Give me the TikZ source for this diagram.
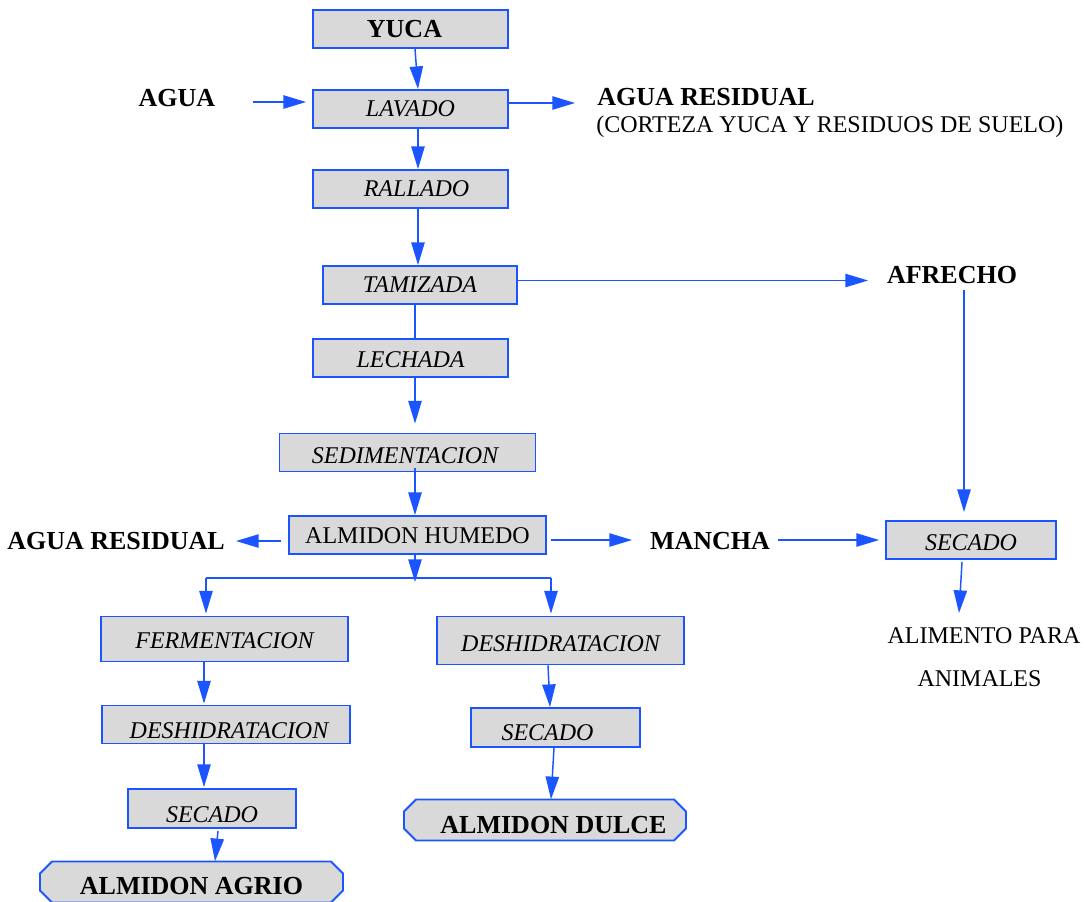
\documentclass[tikz,border=0pt]{standalone}
\usepackage{fontspec}
\setmainfont{Liberation Serif}
\usetikzlibrary{arrows.meta}
\definecolor{lb}{HTML}{1A55FF}
\definecolor{boxgray}{HTML}{D9D9D9}
\newcommand\octo[3]{%
 \path[octst] ([shift={(-#2+12,-#3)}]#1) -- ([shift={(#2-12,-#3)}]#1) -- ([shift={(#2,-#3+12)}]#1) -- ([shift={(#2,#3-12)}]#1) -- ([shift={(#2-12,#3)}]#1) -- ([shift={(-#2+12,#3)}]#1) -- ([shift={(-#2,#3-12)}]#1) -- ([shift={(-#2,-#3+12)}]#1) -- cycle;}
\begin{document}
\begin{tikzpicture}[x=0.75pt,y=-0.75pt,
  itf/.style={font=\fontsize{18}{20}\selectfont\itshape},
  rgf/.style={font=\fontsize{18}{20}\selectfont},
  bdf/.style={font=\fontsize{19.5}{22}\selectfont\bfseries},
  pbox/.style 2 args={draw=lb, fill=boxgray, line width=1.4pt, minimum width=#1*0.75pt, minimum height=#2*0.75pt, inner sep=0pt},
  th/.style={text height=#1, text depth=0pt},
  octst/.style={draw=lb, fill=boxgray, line width=1.4pt},
  txt/.style={inner sep=0pt},
  arr/.style={draw=lb, line width=1.1pt, -{Triangle[length=17pt,width=10pt]}},
  ln/.style={draw=lb, line width=1.1pt}]
\useasboundingbox (0,0) rectangle (1087,901);
\fill[white] (0,0) rectangle (1087,901);
\clip (0,0) rectangle (1087,901);

% boxes
\node[pbox={195}{38}, bdf] (yuca) at (410.5,29) {YUCA\hspace*{9pt}};
\node[pbox={195}{38}, itf] (lavado) at (410.5,109) {LAVADO};
\node[pbox={195}{38}, itf] (rallado) at (410.5,189) {\hspace*{9pt}RALLADO};
\node[pbox={194}{38}, itf] (tamizada) at (420,285) {TAMIZADA};
\node[pbox={195}{38}, itf, th=14.9pt] (lechada) at (410.5,358) {LECHADA};
\node[pbox={256}{38}, itf, th=16.4pt] (sedim) at (407.5,452.5) {SEDIMENTACION\hspace*{3.75pt}};
\node[pbox={257}{38}, rgf, th=13.4pt] (humedo) at (417.5,535) {ALMIDON HUMEDO};
\node[pbox={247}{45}, itf, th=14.9pt] (ferm) at (224.5,639) {FERMENTACION};
\node[pbox={248}{38}, itf, th=21.65pt] (deshL) at (226,724.5) {\hspace*{4.5pt}DESHIDRATACION};
\node[pbox={168}{39}, itf, th=21.65pt] (secL) at (212,808.5) {SECADO};
\node[pbox={247}{48}, itf, th=16.4pt] (deshR) at (560.5,640.5) {DESHIDRATACION};
\node[pbox={169}{39}, itf, th=20.15pt] (secM) at (555.5,727.5) {SECADO\hspace*{12pt}};
\node[pbox={170}{38}, itf, th=16.4pt] (secR) at (971,540) {SECADO};

\coordinate (agc) at (191.5,882);
\octo{agc}{151.5}{20.5}
\node[txt, minimum width=303*0.75pt, minimum height=41*0.75pt, bdf, th=19.2pt] (agrio) at (agc) {ALMIDON AGRIO};
\coordinate (duc) at (545,820);
\octo{duc}{141}{20.5}
\node[txt, minimum width=282*0.75pt, minimum height=41*0.75pt, bdf, th=19.95pt] (dulce) at (duc) {\hspace*{12.75pt}ALMIDON DULCE};

% free texts
\node[txt, bdf] (agua) at (177,98) {AGUA};
\node[txt, bdf, anchor=west] (ares1) at (597,97) {AGUA RESIDUAL};
\node[txt, rgf, anchor=west] (ares1b) at (596,127) {(CORTEZA YUCA Y RESIDUOS DE SUELO)};
\node[txt, bdf] (afrecho) at (952,275) {AFRECHO};
\node[txt, bdf] (ares2) at (116,541) {AGUA RESIDUAL};
\node[txt, bdf] (mancha) at (710,541) {MANCHA};
\node[txt, rgf] (alim1) at (984,636) {ALIMENTO PARA};
\node[txt, rgf] (alim2) at (979.5,679) {ANIMALES};

% connectors
\draw[arr] ([shift={(4.5,0)}]yuca.south) -- ([shift={(7.5,0)}]lavado.north);
\draw[arr] ([shift={(76,4)}]agua.center) -- ([shift={(-6,-7)}]lavado.west);
\draw[arr] ([shift={(0,-6)}]lavado.east) -- ([shift={(-22,6)}]ares1.west);
\draw[arr] ([shift={(7.5,0)}]lavado.south) -- ([shift={(7.5,0)}]rallado.north);
\draw[arr] ([shift={(7.5,0)}]rallado.south) -- ([shift={(-2,0)}]tamizada.north);
\draw[arr] ([shift={(0,-4.5)}]tamizada.east) -- ([shift={(-84,5.5)}]afrecho.center);
\draw[ln] ([shift={(-5,0)}]tamizada.south) -- ([shift={(4.5,0)}]lechada.north);
\draw[arr] ([shift={(4.5,0)}]lechada.south) -- ([shift={(7.5,-9)}]sedim.north);
\draw[arr] ([shift={(7.5,-4)}]sedim.south) -- ([shift={(-2.5,0)}]humedo.north);
\draw[arr] ([shift={(-7,6)}]humedo.west) -- ([shift={(120,0)}]ares2.center);
\draw[arr] ([shift={(4,5)}]humedo.east) -- ([shift={(-78,-1)}]mancha.center);
\draw[arr] ([shift={(68,-1)}]mancha.center) -- ([shift={(-6,0)}]secR.west);
\draw[arr] ([shift={(12,15)}]afrecho.center) -- ([shift={(-7,-8)}]secR.north);
\draw[arr] ([shift={(-9,2)}]secR.south) -- ([shift={(-25,-23)}]alim1.center);

\coordinate (fork) at (415,578);
\coordinate (forkL) at (206,578);
\coordinate (forkR) at (551,578);
\draw[arr] ([shift={(-2.5,0)}]humedo.south) -- ([shift={(0,4)}]fork);
\draw[ln] (forkL) -- (forkR);
\draw[arr] (forkL) -- ([shift={(0,-2)}]forkL |- ferm.north);
\draw[arr] (forkR) -- ([shift={(0,-2)}]forkR |- deshR.north);

\draw[arr] ([shift={(-20.5,0)}]ferm.south) -- ([shift={(-22,-1)}]deshL.north);
\draw[arr] ([shift={(-22,0)}]deshL.south) -- ([shift={(-8,-1)}]secL.north);
\draw[arr] ([shift={(6,2)}]secL.south) -- ([shift={(23.5,0)}]agrio.north);
\draw[arr] ([shift={(-12.5,0)}]deshR.south) -- ([shift={(-5.5,0)}]secM.north);
\draw[arr] ([shift={(-1.5,0)}]secM.south) -- ([shift={(6,0)}]dulce.north);
\end{tikzpicture}
\end{document}
